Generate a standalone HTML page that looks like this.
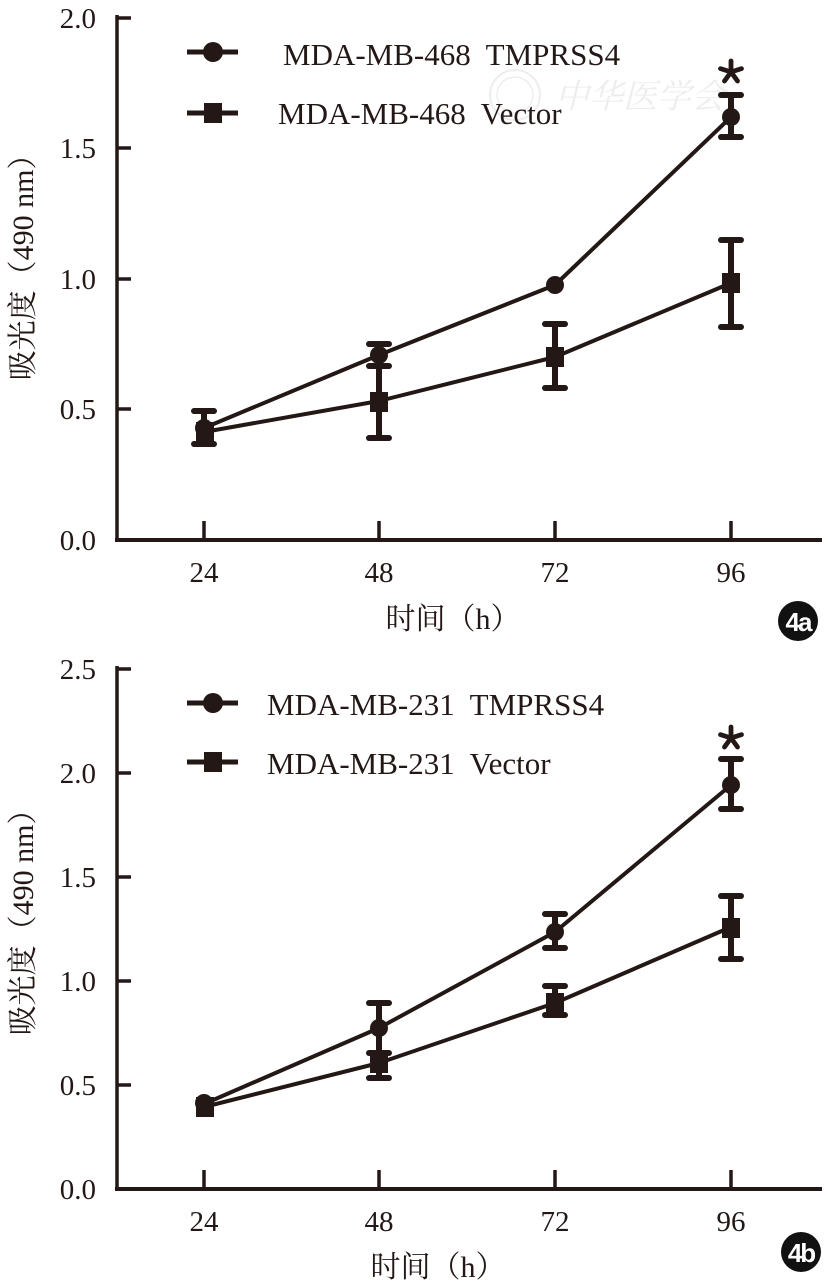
<!DOCTYPE html>
<html>
<head>
<meta charset="utf-8">
<style>
html,body{margin:0;padding:0;background:#fff;}
svg{display:block;}
.t{font-family:"Liberation Serif","Noto Serif CJK SC",serif;fill:#231815;}
.cj{font-family:"Noto Serif CJK SC","Liberation Serif",serif;fill:#231815;}
.pre{white-space:pre;}
</style>
</head>
<body>
<svg width="828" height="1287" viewBox="0 0 828 1287" xmlns="http://www.w3.org/2000/svg" xml:space="preserve">
<defs>
  <g id="star">
    <path d="M0,-11 L0,0 M0,0 L10.5,-3.4 M0,0 L6.5,9 M0,0 L-6.5,9 M0,0 L-10.5,-3.4" stroke="#231815" stroke-width="4.8" stroke-linecap="round" fill="none"/>
  </g>
</defs>

<!-- watermark -->
<g opacity="0.14">
  <circle cx="515" cy="95" r="25" fill="none" stroke="#888" stroke-width="2"/>
  <circle cx="515" cy="95" r="18" fill="none" stroke="#888" stroke-width="1.5"/>
  <text x="555" y="108" class="cj" style="font-size:34px;fill:#888;font-style:italic">中华医学会</text>
</g>

<!-- ================= TOP CHART ================= -->
<g stroke="#231815" fill="none" stroke-linecap="butt">
  <line x1="117" y1="15" x2="117" y2="542" stroke-width="3.5"/>
  <line x1="115" y1="540" x2="822" y2="540" stroke-width="4"/>
  <line x1="117" y1="18" x2="131" y2="18" stroke-width="3.5"/>
  <line x1="117" y1="148" x2="131" y2="148" stroke-width="3.5"/>
  <line x1="117" y1="279" x2="131" y2="279" stroke-width="3.5"/>
  <line x1="117" y1="409" x2="131" y2="409" stroke-width="3.5"/>
  <line x1="204" y1="521" x2="204" y2="540" stroke-width="3.5"/>
  <line x1="379" y1="521" x2="379" y2="540" stroke-width="3.5"/>
  <line x1="555" y1="521" x2="555" y2="540" stroke-width="3.5"/>
  <line x1="731" y1="521" x2="731" y2="540" stroke-width="3.5"/>
</g>
<g class="t" style="font-size:29px" text-anchor="end">
  <text x="96" y="28">2.0</text>
  <text x="96" y="158">1.5</text>
  <text x="96" y="289">1.0</text>
  <text x="96" y="419">0.5</text>
  <text x="96" y="550">0.0</text>
</g>
<g class="t" style="font-size:29px" text-anchor="middle">
  <text x="204" y="582">24</text>
  <text x="379" y="582">48</text>
  <text x="555" y="582">72</text>
  <text x="731" y="582">96</text>
</g>
<text x="453" y="629" text-anchor="middle" style="font-size:30px"><tspan class="cj">时间（</tspan><tspan class="t">h</tspan><tspan class="cj">）</tspan></text>
<text transform="translate(33,260) rotate(-90)" text-anchor="middle" style="font-size:30px"><tspan class="cj">吸光度（</tspan><tspan class="t">490 nm</tspan><tspan class="cj">）</tspan></text>

<circle cx="798" cy="621" r="20" fill="#111"/>
<text x="798" y="631" text-anchor="middle" style="font-family:'Liberation Sans',sans-serif;font-weight:bold;font-size:26px;fill:#fff;letter-spacing:-2px">4a</text>

<g stroke="#231815" stroke-width="5">
  <line x1="187" y1="52" x2="238" y2="52"/>
  <line x1="187" y1="113" x2="238" y2="113"/>
</g>
<circle cx="213" cy="52" r="10" fill="#231815"/>
<rect x="204" y="103" width="18" height="20" fill="#231815"/>
<text x="283" y="65" class="t pre" style="font-size:31px">MDA-MB-468  TMPRSS4</text>
<text x="278" y="124" class="t pre" style="font-size:31px">MDA-MB-468  Vector</text>

<g stroke="#231815" stroke-width="4" fill="none" stroke-linejoin="round">
  <polyline points="204,428 379,355 555,285 731,117"/>
  <polyline points="204,432 379,401 555,357 731,283"/>
</g>
<g stroke="#231815" stroke-width="6" stroke-linecap="round" fill="none">
  <line x1="204" y1="411" x2="204" y2="444"/>
  <line x1="194" y1="411" x2="214" y2="411"/>
  <line x1="194" y1="444" x2="214" y2="444"/>
  <line x1="379" y1="344" x2="379" y2="366"/>
  <line x1="369" y1="344" x2="389" y2="344"/>
  <line x1="369" y1="366" x2="389" y2="366"/>
  <line x1="379" y1="344" x2="379" y2="438"/>
  <line x1="369" y1="438" x2="389" y2="438"/>
  <line x1="555" y1="324" x2="555" y2="388"/>
  <line x1="545" y1="324" x2="565" y2="324"/>
  <line x1="545" y1="388" x2="565" y2="388"/>
  <line x1="731" y1="95" x2="731" y2="137"/>
  <line x1="721" y1="95" x2="741" y2="95"/>
  <line x1="721" y1="137" x2="741" y2="137"/>
  <line x1="731" y1="240" x2="731" y2="327"/>
  <line x1="721" y1="240" x2="741" y2="240"/>
  <line x1="721" y1="327" x2="741" y2="327"/>
</g>
<g fill="#231815">
  <circle cx="204" cy="428" r="9"/>
  <circle cx="379" cy="355" r="9"/>
  <circle cx="555" cy="285" r="9"/>
  <circle cx="731" cy="117" r="9"/>
  <rect x="196" y="422" width="18" height="20"/>
  <rect x="370" y="392" width="18" height="20"/>
  <rect x="546" y="347" width="18" height="20"/>
  <rect x="722" y="273" width="18" height="20"/>
</g>
<use href="#star" x="731" y="72"/>

<!-- ================= BOTTOM CHART ================= -->
<g stroke="#231815" fill="none">
  <line x1="117" y1="666" x2="117" y2="1191" stroke-width="3.5"/>
  <line x1="115" y1="1189" x2="822" y2="1189" stroke-width="4"/>
  <line x1="117" y1="669" x2="131" y2="669" stroke-width="3.5"/>
  <line x1="117" y1="773" x2="131" y2="773" stroke-width="3.5"/>
  <line x1="117" y1="877" x2="131" y2="877" stroke-width="3.5"/>
  <line x1="117" y1="981" x2="131" y2="981" stroke-width="3.5"/>
  <line x1="117" y1="1085" x2="131" y2="1085" stroke-width="3.5"/>
  <line x1="204" y1="1170" x2="204" y2="1189" stroke-width="3.5"/>
  <line x1="379" y1="1170" x2="379" y2="1189" stroke-width="3.5"/>
  <line x1="555" y1="1170" x2="555" y2="1189" stroke-width="3.5"/>
  <line x1="731" y1="1170" x2="731" y2="1189" stroke-width="3.5"/>
</g>
<g class="t" style="font-size:29px" text-anchor="end">
  <text x="96" y="679">2.5</text>
  <text x="96" y="783">2.0</text>
  <text x="96" y="887">1.5</text>
  <text x="96" y="991">1.0</text>
  <text x="96" y="1095">0.5</text>
  <text x="96" y="1199">0.0</text>
</g>
<g class="t" style="font-size:29px" text-anchor="middle">
  <text x="204" y="1231">24</text>
  <text x="379" y="1231">48</text>
  <text x="555" y="1231">72</text>
  <text x="731" y="1231">96</text>
</g>
<text x="438" y="1277" text-anchor="middle" style="font-size:30px"><tspan class="cj">时间（</tspan><tspan class="t">h</tspan><tspan class="cj">）</tspan></text>
<text transform="translate(33,915) rotate(-90)" text-anchor="middle" style="font-size:30px"><tspan class="cj">吸光度（</tspan><tspan class="t">490 nm</tspan><tspan class="cj">）</tspan></text>

<circle cx="801" cy="1252" r="20" fill="#111"/>
<text x="801" y="1262" text-anchor="middle" style="font-family:'Liberation Sans',sans-serif;font-weight:bold;font-size:26px;fill:#fff;letter-spacing:-2px">4b</text>

<g stroke="#231815" stroke-width="5">
  <line x1="187" y1="703" x2="238" y2="703"/>
  <line x1="187" y1="762" x2="238" y2="762"/>
</g>
<circle cx="213" cy="703" r="10" fill="#231815"/>
<rect x="204" y="752" width="18" height="20" fill="#231815"/>
<text x="267" y="715" class="t pre" style="font-size:31px">MDA-MB-231  TMPRSS4</text>
<text x="267" y="774" class="t pre" style="font-size:31px">MDA-MB-231  Vector</text>

<g stroke="#231815" stroke-width="4" fill="none" stroke-linejoin="round">
  <polyline points="204,1104 379,1028 555,932 731,785"/>
  <polyline points="204,1107 379,1063 555,1003 731,927"/>
</g>
<g stroke="#231815" stroke-width="6" stroke-linecap="round" fill="none">
  <line x1="379" y1="1003" x2="379" y2="1050"/>
  <line x1="369" y1="1003" x2="389" y2="1003"/>
  <line x1="379" y1="1053" x2="379" y2="1078"/>
  <line x1="369" y1="1053" x2="389" y2="1053"/>
  <line x1="369" y1="1078" x2="389" y2="1078"/>
  <line x1="555" y1="914" x2="555" y2="948"/>
  <line x1="545" y1="914" x2="565" y2="914"/>
  <line x1="545" y1="948" x2="565" y2="948"/>
  <line x1="555" y1="986" x2="555" y2="1015"/>
  <line x1="545" y1="986" x2="565" y2="986"/>
  <line x1="545" y1="1015" x2="565" y2="1015"/>
  <line x1="731" y1="759" x2="731" y2="809"/>
  <line x1="721" y1="759" x2="741" y2="759"/>
  <line x1="721" y1="809" x2="741" y2="809"/>
  <line x1="731" y1="896" x2="731" y2="959"/>
  <line x1="721" y1="896" x2="741" y2="896"/>
  <line x1="721" y1="959" x2="741" y2="959"/>
</g>
<g fill="#231815">
  <circle cx="204" cy="1103" r="9"/>
  <circle cx="379" cy="1028" r="9"/>
  <circle cx="555" cy="932" r="9"/>
  <circle cx="731" cy="785" r="9"/>
  <rect x="196" y="1097" width="18" height="20"/>
  <rect x="370" y="1053" width="18" height="20"/>
  <rect x="546" y="993" width="18" height="20"/>
  <rect x="722" y="918" width="18" height="20"/>
</g>
<use href="#star" x="731" y="738"/>
</svg>
</body>
</html>
